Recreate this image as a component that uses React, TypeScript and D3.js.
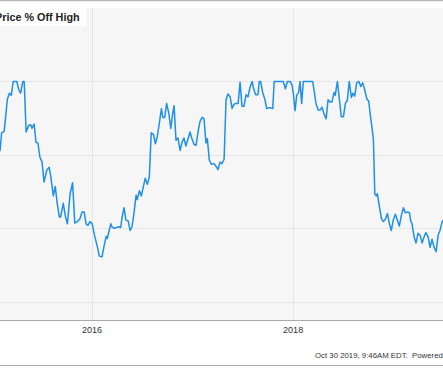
import React from 'react';
import * as d3 from 'd3';

// weekly-ish samples of price % off high
const dates = [
  '2015-01-31', '2015-02-06', '2015-02-15', '2015-02-27', '2015-03-06', '2015-03-13', '2015-03-20', '2015-04-02',
  '2015-04-09', '2015-04-16', '2015-04-24', '2015-04-29', '2015-05-06', '2015-05-15', '2015-05-23', '2015-05-27',
  '2015-06-04', '2015-06-11', '2015-06-18', '2015-06-25', '2015-07-03', '2015-07-10', '2015-07-20', '2015-07-29',
  '2015-08-03', '2015-08-13', '2015-08-20', '2015-08-27', '2015-09-04', '2015-09-09', '2015-09-18', '2015-09-26',
  '2015-10-03', '2015-10-13', '2015-10-22', '2015-10-30', '2015-11-08', '2015-11-18', '2015-11-25', '2015-12-03',
  '2015-12-10', '2015-12-17', '2015-12-24', '2016-01-01', '2016-01-10', '2016-01-20', '2016-01-27', '2016-02-06',
  '2016-02-13', '2016-02-21', '2016-02-25', '2016-03-09', '2016-03-13', '2016-03-21', '2016-03-30', '2016-04-09',
  '2016-04-14', '2016-04-19', '2016-04-26', '2016-05-03', '2016-05-11', '2016-05-18', '2016-05-25', '2016-06-01',
  '2016-06-09', '2016-06-13', '2016-06-21', '2016-06-28', '2016-07-05', '2016-07-12', '2016-07-20', '2016-07-27',
  '2016-08-03', '2016-08-11', '2016-08-18', '2016-08-25', '2016-09-01', '2016-09-09', '2016-09-14', '2016-09-21',
  '2016-09-28', '2016-10-06', '2016-10-13', '2016-10-20', '2016-10-25', '2016-11-01', '2016-11-08', '2016-11-16',
  '2016-11-23', '2016-11-30', '2016-12-07', '2016-12-15', '2016-12-22', '2016-12-29', '2017-01-06', '2017-01-13',
  '2017-01-20', '2017-01-27', '2017-02-04', '2017-02-11', '2017-02-18', '2017-02-23', '2017-03-02', '2017-03-10',
  '2017-03-19', '2017-03-27', '2017-04-03', '2017-04-10', '2017-04-17', '2017-04-25', '2017-05-02', '2017-05-09',
  '2017-05-17', '2017-05-24', '2017-05-31', '2017-06-07', '2017-06-15', '2017-06-22', '2017-06-29', '2017-07-06',
  '2017-07-14', '2017-07-21', '2017-07-28', '2017-08-05', '2017-08-09', '2017-08-17', '2017-08-26', '2017-08-31',
  '2017-09-05', '2017-09-12', '2017-09-20', '2017-09-27', '2017-10-04', '2017-10-12', '2017-10-19', '2017-10-24',
  '2017-11-26', '2017-12-04', '2017-12-11', '2017-12-21', '2017-12-28', '2018-01-02', '2018-01-08', '2018-01-14',
  '2018-01-21', '2018-01-26', '2018-02-01', '2018-02-07', '2018-03-13', '2018-03-18', '2018-03-25', '2018-04-02',
  '2018-04-09', '2018-04-16', '2018-04-23', '2018-05-01', '2018-05-08', '2018-05-15', '2018-05-22', '2018-05-30',
  '2018-06-03', '2018-06-11', '2018-06-18', '2018-06-25', '2018-07-03', '2018-07-10', '2018-07-17', '2018-07-24',
  '2018-08-01', '2018-08-06', '2018-08-13', '2018-08-20', '2018-08-28', '2018-09-04', '2018-09-11', '2018-09-18',
  '2018-09-26', '2018-10-03', '2018-10-08', '2018-10-15', '2018-10-20', '2018-10-25', '2018-10-30', '2018-11-03',
  '2018-11-11', '2018-11-18', '2018-11-25', '2018-12-02', '2018-12-10', '2018-12-17', '2018-12-24', '2018-12-31',
  '2019-01-08', '2019-01-15', '2019-01-22', '2019-01-30', '2019-02-06', '2019-02-13', '2019-02-20', '2019-02-28',
  '2019-03-05', '2019-03-09', '2019-03-17', '2019-03-24', '2019-03-31', '2019-04-08', '2019-04-15', '2019-04-22',
  '2019-04-29', '2019-05-07', '2019-05-14', '2019-05-21', '2019-05-28', '2019-06-05', '2019-06-12', '2019-06-19',
  '2019-06-27', '2019-06-30', '2019-07-05',
];

const offHigh = [
  -9.5, -7.0, -6.8, -2.4, -1.6, -1.9, 0, 0,
  -1.1, -1.6, 0, 0, -6.9, -6.0, -5.9, -6.4,
  -5.8, -8.3, -8.4, -10.3, -11.0, -13.7, -12.1, -11.7,
  -12.8, -15.6, -14.3, -16.6, -18.5, -18.4, -16.6, -18.4,
  -19.4, -15.3, -13.8, -19.3, -19.1, -18.7, -17.8, -17.8,
  -19.4, -19.6, -19.1, -19.4, -21.0, -22.5, -23.8, -23.9,
  -22.5, -21.1, -21.4, -19.4, -19.8, -20.0, -19.9, -19.8,
  -19.9, -18.5, -17.2, -18.9, -19.0, -20.3, -19.8, -18.0,
  -15.5, -16.1, -14.9, -15.6, -14.4, -13.2, -14.0, -13.0,
  -7.0, -7.2, -8.5, -7.5, -5.8, -3.7, -4.9, -4.9,
  -3.0, -4.4, -6.4, -4.4, -3.3, -8.0, -7.7, -9.4,
  -8.3, -7.7, -8.8, -7.8, -6.9, -7.8, -8.6, -8.7,
  -6.9, -5.5, -4.9, -5.1, -8.4, -7.8, -10.7, -11.3,
  -11.2, -11.6, -12.0, -11.0, -11.2, -10.6, -2.5, -1.7,
  -2.1, -3.7, -3.1, -3.0, -3.0, -0.1, -3.4, -3.4,
  -1.8, -2.1, -0.8, 0, -0.8, -1.8, -1.8, 0,
  0, -1.5, -2.4, -3.7, -3.6, -3.6, -3.7, 0,
  0, -1.0, 0, 0, -0.5, -1.7, -4.0, -1.9,
  -1.5, 0, -3.0, 0, 0, -1.2, -3.0, -3.9,
  -3.9, -3.5, -4.4, -5.1, -2.5, -2.8, -2.8, -1.5,
  -1.9, 0, -2.4, -4.8, -4.8, -3.0, -2.6, 0,
  -2.2, -1.6, -2.0, -0.2, 0, -0.7, -0.2, -1.1,
  -2.4, -2.7, -4.4, -6.4, -8.0, -15.3, -15.6, -15.3,
  -17.1, -18.7, -19.1, -18.8, -18.0, -19.4, -20.3, -18.9,
  -18.1, -18.9, -19.7, -18.2, -17.2, -17.9, -17.8, -17.9,
  -19.1, -19.3, -21.2, -22.0, -20.7, -21.0, -22.0, -21.2,
  -20.6, -21.2, -22.6, -21.5, -22.5, -23.2, -21.0, -20.3,
  -19.1, -19.0, -18.6,
];

const gridValues = [0, -10, -20, -30];
const yearTicks = ['2016-01-01', '2018-01-01'];

const title = 'Price % Off High';
const footer = 'Oct 30 2019, 9:46AM EDT.  Powered by YCharts';

const W = 443;
const H = 370;

export default function App() {
  const parse = d3.timeParse('%Y-%m-%d');
  const points = dates.map((d, i) => ({ date: parse(d) as Date, value: offHigh[i] }));

  // plot area: y 8..320, the chart is cropped left and right
  const x = d3.scaleTime()
    .domain([parse('2015-01-31') as Date, parse('2019-06-30') as Date])
    .range([0, W]);
  const y = d3.scaleLinear()
    .domain([10, -32.5])
    .range([8, 320]);

  const line = d3.line<{ date: Date; value: number }>()
    .x(d => x(d.date))
    .y(d => y(d.value));

  const font = 'Arial, "Liberation Sans", Helvetica, sans-serif';

  return (
    <svg width={W} height={H} style={{ position: 'absolute', left: 0, top: 0, display: 'block' }}>
      <defs>
        <clipPath id="plot">
          <rect x={0} y={8} width={W} height={312} />
        </clipPath>
      </defs>
      <rect x={0} y={0} width={W} height={H} fill="#fff" />
      <line x1={0} x2={W} y1={0.5} y2={0.5} stroke="#bbb" strokeWidth={1.5} />
      <rect x={0} y={8} width={W} height={312} fill="#f6f6f6" />

      {gridValues.map(v => (
        <line key={v} x1={0} x2={W} y1={Math.round(y(v)) + 0.5} y2={Math.round(y(v)) + 0.5}
          stroke="#e6e6e6" strokeWidth={1} />
      ))}
      {yearTicks.map(t => {
        const xx = Math.round(x(parse(t) as Date)) + 0.5;
        return <line key={t} x1={xx} x2={xx} y1={8} y2={320} stroke="#e6e6e6" strokeWidth={1} />;
      })}

      <path d={line(points) || ''} fill="none" stroke="#1e8fea" strokeWidth={1.5}
        strokeLinejoin="round" clipPath="url(#plot)" />

      <rect x={0} y={8} width={86} height={18} fill="#fff" />
      <text x={-5} y={21} fontFamily={font} fontSize={10.8} fontWeight="bold" fill="#222">{title}</text>

      <line x1={0} x2={W} y1={320.5} y2={320.5} stroke="#aaa" strokeWidth={1} />
      {yearTicks.map(t => (
        <text key={t} x={x(parse(t) as Date)} y={333} textAnchor="middle"
          fontFamily={font} fontSize={9} fill="#333">{t.slice(0, 4)}</text>
      ))}

      <text x={315} y={358} fontFamily={font} fontSize={7.8} fill="#333"
        style={{ whiteSpace: 'pre' }}>{footer}</text>
      <line x1={0} x2={W} y1={365.5} y2={365.5} stroke="#aaa" strokeWidth={1} />
    </svg>
  );
}
